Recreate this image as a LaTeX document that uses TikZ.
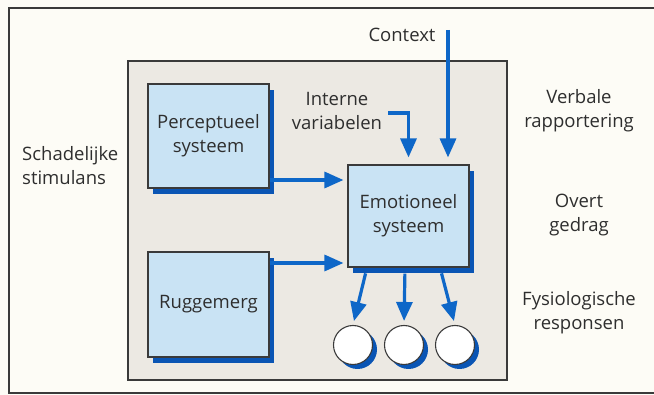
\documentclass[tikz,border=0pt]{standalone}
\usepackage{fontspec}
\setmainfont{Open Sans}
\usetikzlibrary{arrows.meta,shadows}
\definecolor{bgcol}{HTML}{FDFCF6}
\definecolor{graycol}{HTML}{ECE9E3}
\definecolor{boxblue}{HTML}{C9E3F4}
\definecolor{shadowblue}{HTML}{0A55B4}
\definecolor{arrowblue}{HTML}{0E67C8}
\definecolor{txt}{HTML}{2E2E2E}
\definecolor{framecol}{HTML}{3A3A3A}
\tikzset{
  sysbox/.style={draw=framecol, line width=1.1pt, fill=boxblue, minimum width=121pt,
    general shadow={fill=shadowblue, shadow xshift=5pt, shadow yshift=-6pt},
    align=center, text=txt, font=\fontsize{18.5}{24}\selectfont},
  lbl/.style={align=center, text=txt, font=\fontsize{18.5}{24}\selectfont, inner sep=0pt},
  resp/.style={circle, draw=framecol, line width=1.1pt, fill=white, minimum size=39pt, inner sep=0pt,
    general shadow={fill=shadowblue, shadow xshift=4.5pt, shadow yshift=-4.5pt}},
  arr/.style={draw=arrowblue, line width=3.2pt, -{Triangle[length=19pt,width=16pt]}}
}
\begin{document}
\begin{tikzpicture}[x=1pt,y=-1pt]
\fill[bgcol] (0,0) rectangle (654,395);
\useasboundingbox (0,0) rectangle (654,395);
\draw[framecol, line width=1.4pt] (654,8) -- (9,8) -- (9,393) -- (654,393);
\draw[framecol, line width=1.1pt, fill=graycol] (128,61) rectangle (507,380);

\node[sysbox, minimum height=104pt] (perc) at (208.5,136) {Perceptueel\\systeem};
\node[sysbox, minimum height=105pt] (rugg) at (208.5,304.5) {Ruggemerg};
\node[sysbox, minimum height=102pt] (emo) at (408.5,216) {Emotioneel\\systeem};

\node[resp] (c1) at (353,345) {};
\node[resp] (c2) at (404,345) {};
\node[resp] (c3) at (455,345) {};

\node[lbl, align=left, anchor=west] (schad) at (22,166) {Schadelijke\\stimulans};
\node[lbl] (ctx) at (402,35) {Context};
\node[lbl] (iv) at (337,111) {Interne\\variabelen};
\node[lbl] (verb) at (579,111) {Verbale\\rapportering};
\node[lbl] (overt) at (579,215) {Overt\\gedrag};
\node[lbl] (fys) at (579,313) {Fysiologische\\responsen};

\coordinate (ctxs) at (448,30);
\coordinate (ivs) at (388,113);

\draw[arr, shorten >=7pt] (ctxs) -- (ctxs |- emo.north);
\draw[arr, shorten >=7pt] (ivs) -| (emo.north);
\draw[arr, shorten >=4pt] (perc.east |- 0,180) -- (emo.west |- 0,180);
\draw[arr, shorten >=4pt] (rugg.east |- 0,263) -- (emo.west |- 0,263);
\draw[arr, shorten <=6pt, shorten >=4pt] (emo.south -| 367,0) -- (c1.north);
\draw[arr, shorten <=6pt, shorten >=4pt] (emo.south -| 405,0) -- (c2.north);
\draw[arr, shorten <=6pt, shorten >=4pt] (emo.south -| 440,0) -- (c3.north);
\end{tikzpicture}
\end{document}
